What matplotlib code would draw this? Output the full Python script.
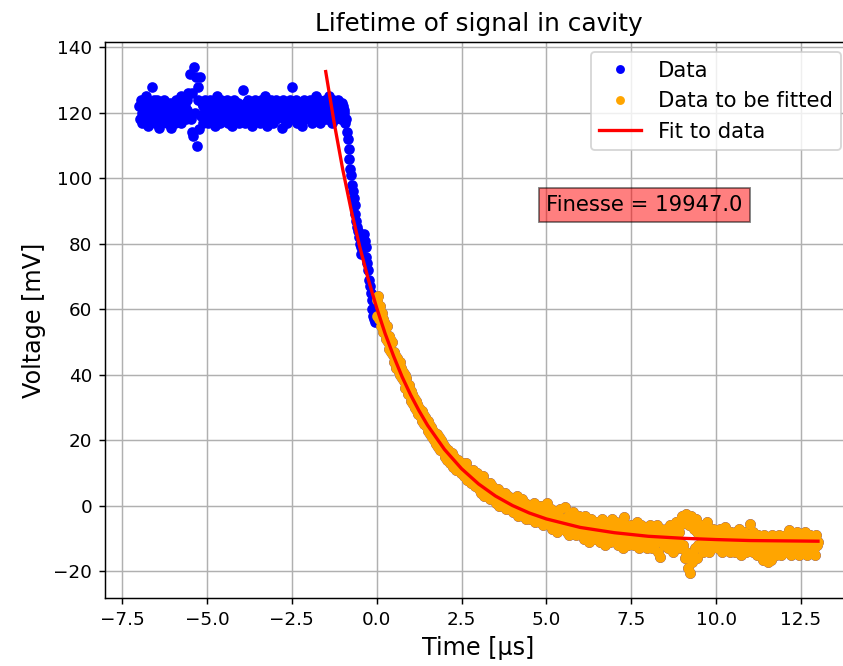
import numpy as np
import matplotlib
matplotlib.use("Agg")
import matplotlib.pyplot as plt

# scope trace (mV); one sample every 0.025 us, starting at -7.0 us
# 20 samples (0.5 us) per row
v_before = [
    122, 118, 124, 120, 117, 123, 121, 119, 125, 118, 121, 116, 123, 120, 118, 128, 122, 119, 124, 117,
    121, 124, 119, 115.5, 122, 120, 117, 123, 121, 118, 124, 120, 122, 117, 121, 119, 123, 120, 115.5, 122,
    119, 123, 120, 117, 124, 121, 118, 122, 120, 125, 117, 121, 123, 119, 122, 118, 124, 121, 126, 119,
    132, 118, 114, 126, 113, 134, 120, 131, 110, 124, 128, 115, 131, 119, 123, 117, 122, 120, 124, 118,
    121, 117, 123, 120, 124, 118, 122, 119, 121, 116, 123, 120, 125, 118, 121, 122, 117, 124, 119, 121,
    120, 123, 118, 121, 124, 117, 122, 119, 120, 123, 116, 121, 124, 118, 122, 120, 119, 123, 117, 121,
    122, 118, 121, 127, 120, 117, 123, 119, 124, 121, 118, 122, 120, 116, 123, 121, 119, 124, 118, 122,
    119, 123, 117, 121, 124, 120, 118, 122, 125, 119, 121, 116, 123, 120, 122, 118, 124, 121, 117, 120,
    121, 124, 118, 122, 120, 123, 119, 121, 115.5, 122, 124, 118, 121, 123, 117, 120, 122, 119, 124, 121,
    128, 120, 123, 118, 121, 124, 117, 122, 120, 119, 123, 121, 116, 122, 124, 118, 121, 120, 123, 119,
    122, 118, 124, 120, 117, 123, 121, 119, 125, 118, 122, 120, 124, 117, 121, 123, 119, 122, 118, 124,
    120, 123, 118, 122, 125, 119, 121, 117, 124, 120, 122, 118, 123, 121, 119, 124, 120, 122, 118, 123,
    122, 120, 121, 117, 118, 114, 112, 109, 106, 103, 101, 98, 96, 94, 92, 89, 87, 85, 84, 82,
    80, 79, 77, 80, 82, 83, 81, 79, 76, 74, 72, 69, 67, 65, 63, 60, 58, 57, 56, 59,
]
v_after = [
    63, 58, 64, 57, 61, 55, 59, 57, 53, 56, 54, 51, 55, 50, 52, 48, 51, 47, 50, 46,
    47, 44, 46, 42, 45, 43, 41, 44, 40, 42, 39, 41, 38, 40, 36, 39, 37, 34, 37, 35,
    35, 32, 34, 31, 33, 30, 32, 29, 31, 28, 30, 29, 27, 29, 26, 28, 25, 27, 26, 24,
    26, 23, 25, 22, 24, 21, 23, 20, 22, 21, 19, 22, 18, 21, 19, 17, 20, 17, 19, 16,
    18, 15, 17, 14, 17, 15, 13, 16, 14, 16, 12, 15, 13, 11, 14, 12, 14, 11, 13, 10,
    13, 10, 12, 9, 11, 13, 8, 10, 11, 8, 10, 7, 9, 11, 7, 9, 6, 8, 10, 6,
    8, 5, 7, 4, 6, 9, 5, 3, 7, 5, 6, 3, 5, 7, 2, 4, 6, 3, 5, 2,
    4, 1, 3, 5, 0, 2, 4, 1, 3, 0, 2, 4, -1, 2, 0, 3, 1, -1, 2, 0,
    1, -2, 2, 0, -1, 3, -3, 0, 1, -2, -1, 2, -3, 0, -2, 1, -4, -1, 0, -3,
    -1, -4, 0, -3, -2, 1, -5, -2, -3, 0, -4, -1, -5, -2, 0, -3, -6, -1, -4, -2,
    -3, 1, -5, -2, -6, -4, -1, -7, -3, -5, -2, -6, -4, -8, -3, -5, -1, -6, -4, -7,
    -4, -7, -0.5, -5, -8, -3, -6, -9, -4, -7, -5, -2, -8, -6, -4, -9, -5, -7, -3, -8,
    -5, -8, -4, -7, -10, -6, -3, -9, -7, -5, -11, -6, -8, -4, -9, -7, -10, -5, -8, -6,
    -9, -5, -8, -11, -6, -4, -10, -7, -9, -12, -6, -8, -5, -10, -7, -11, -8, -4, -9, -6,
    -7, -10, -5, -9, -12, -8, -6, -11, -9, -7, -13, -8, -3.5, -10, -6, -9, -12, -7, -10, -8,
    -6, -10, -8, -12, -7, -11, -9, -5, -10, -13, -8, -6, -11, -9, -12, -7, -10, -8, -13, -9,
    -8, -11, -6, -10, -13, -7, -9, -12, -8, -11, -6, -10, -14, -9, -15.5, -7, -11, -9, -12, -8,
    -11, -7, -10, -13, -8, -12, -6, -10, -9, -14, -7, -11, -9, -5, -12, -10, -8, -13, -6, -4,
    -3, -12, -5, -16, -2.5, -14, -4, -19, -6, -20.5, -3, -17, -5, -15, -7, -13, -4, -16, -8, -12,
    -8, -12, -6, -11, -14, -9, -7, -13, -10, -5, -12, -9, -14, -8, -11, -13, -7, -10, -12, -9,
    -11, -8, -13, -10, -7, -12, -9, -14, -11, -8, -12, -6.5, -10, -13, -9, -11, -14, -8, -12, -10,
    -9, -12, -14, -8, -11, -13, -10, -7, -12, -15, -9, -11, -13, -8, -10, -14, -12, -9, -11, -13,
    -5.5, -9, -12, -14, -8, -11, -13, -10, -15, -9, -12, -14, -10, -13, -11, -16.5, -9, -12, -14, -11,
    -13, -17, -10, -15, -12, -16.5, -9, -14, -11, -13, -15, -10, -12, -14, -9, -13, -11, -15, -12, -10,
    -12, -14, -9, -11, -13, -10, -7.5, -12, -15, -9, -11, -13, -14, -10, -12, -8, -13, -11, -15, -10,
    -12, -9, -14, -11, -13, -8, -12, -15, -10, -11, -13, -9, -14, -12, -10, -13, -11, -15, -9, -12,
    -11,
]
voltage = np.array(v_before + v_after)
time = np.linspace(-7.0, 13.0, len(voltage))  # sample times
fitted = time >= 0

# fitted curve
t_fit = [-1.5, -1.25, -1.0, -0.75, -0.5, -0.25, 0.0, 0.25, 0.5, 0.75, 1.0,
         1.25, 1.5, 2.0, 2.5, 3.0, 3.5, 4.0, 4.5, 5.0, 6.0, 7.0, 8.0, 9.0,
         10.0, 11.0, 12.0, 13.0]
v_fit = [132.6, 116.9, 102.8, 90.3, 79.2, 69.3, 60.5, 52.6, 45.7, 39.4, 33.9,
         29.0, 24.6, 17.2, 11.35, 6.7, 3.0, 0.1, -2.2, -4.0, -6.6, -8.2, -9.3,
         -9.9, -10.3, -10.6, -10.7, -10.8]

finesse = 19947.0

fig = plt.figure(figsize=(843 / 132, 666 / 132), dpi=132)
ax = fig.add_axes([0.1246, 0.1017, 0.886, 0.8357])

ax.plot(time, voltage, 'o', color='blue', ms=4.8, label='Data')
ax.plot(time[fitted], voltage[fitted], 'o', color='orange', ms=4.8,
        label='Data to be fitted')
ax.plot(t_fit, v_fit, color='red', lw=1.8, label='Fit to data')

ax.text(5, 90, 'Finesse = ' + str(finesse), fontsize=11.5,
        bbox=dict(facecolor='red', alpha=0.5))

ax.set_title('Lifetime of signal in cavity', fontsize=13.5)
ax.set_xlabel('Time [µs]', fontsize=13)
ax.set_ylabel('Voltage [mV]', fontsize=13)
ax.grid()
ax.legend(loc='upper right', fontsize=11.5, markerscale=0.8)

fig.savefig('out.png', dpi=132)
